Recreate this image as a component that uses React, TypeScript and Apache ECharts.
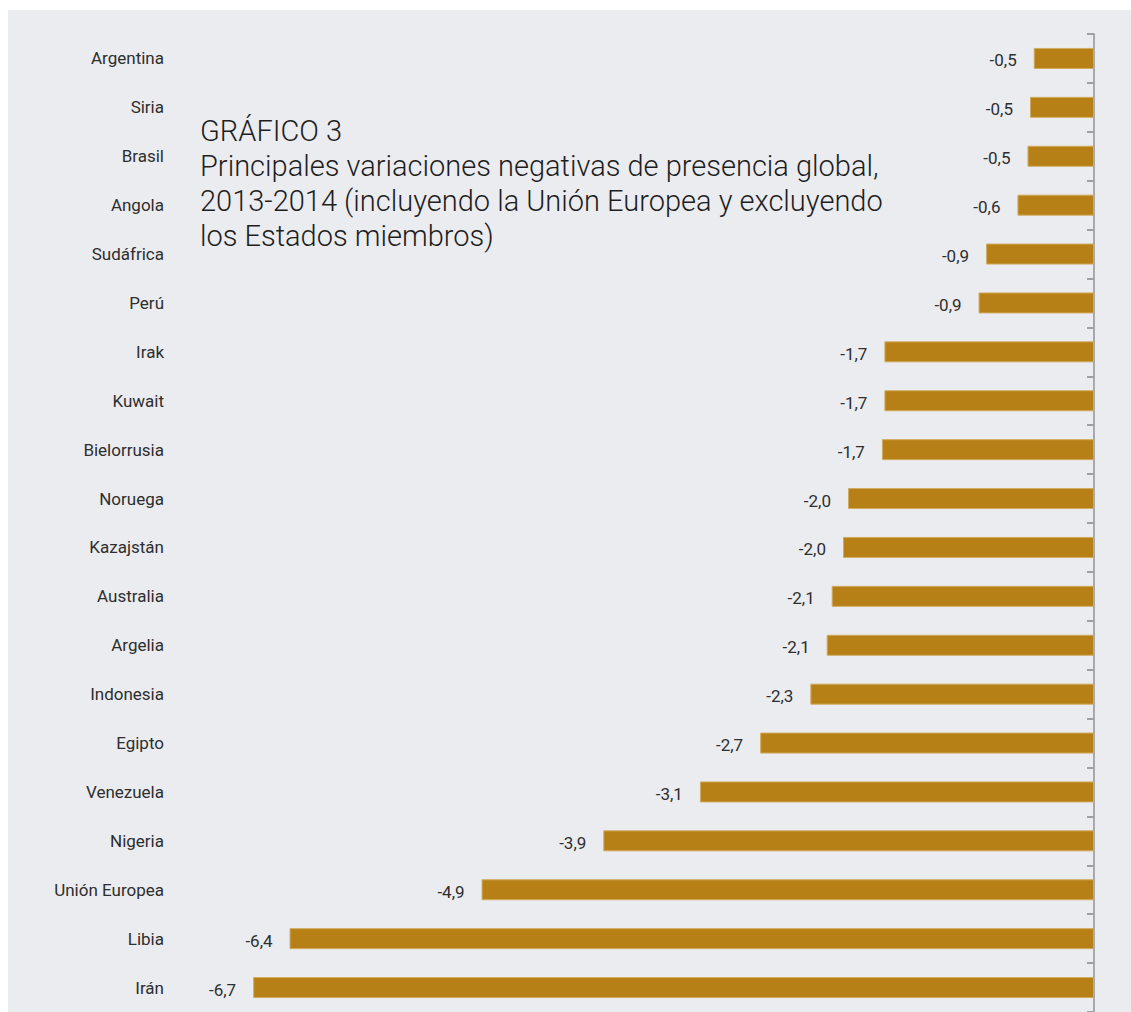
import React, { useEffect, useRef } from "react";
import * as echarts from "echarts";

const categories = [
  "Argentina", "Siria", "Brasil", "Angola", "Sudáfrica", "Perú", "Irak", "Kuwait",
  "Bielorrusia", "Noruega", "Kazajstán", "Australia", "Argelia", "Indonesia", "Egipto",
  "Venezuela", "Nigeria", "Unión Europea", "Libia", "Irán",
];
const values = [
  -0.48, -0.51, -0.53, -0.61, -0.86, -0.92, -1.67, -1.67, -1.69, -1.96, -2.0, -2.09,
  -2.13, -2.26, -2.66, -3.14, -3.91, -4.88, -6.41, -6.7,
];
const titleLines = [
  "GRÁFICO 3",
  "Principales variaciones negativas de presencia global,",
  "2013-2014 (incluyendo la Unión Europea y excluyendo",
  "los Estados miembros)",
];

export default function App() {
  const ref = useRef<HTMLDivElement>(null);
  useEffect(() => {
    if (!ref.current) return;
    const chart = echarts.init(ref.current, null, { renderer: "svg" });
    const font = "Roboto, 'Helvetica Neue', Arial, sans-serif";
    chart.setOption({
      animation: false,
      backgroundColor: "#ebecf0",
      textStyle: { fontFamily: font },
      grid: { left: 207.5, right: 37, top: 24, height: 980, containLabel: false },
      xAxis: {
        type: "value",
        min: -7,
        max: 0,
        show: false,
      },
      yAxis: [
        {
          type: "category",
          data: categories,
          inverse: true,
          position: "right",
          axisLine: { show: true, lineStyle: { color: "#a9a9ab", width: 2 } },
          axisTick: { show: true, inside: true, length: 7, lineStyle: { color: "#a0a0a2", width: 2 } },
          axisLabel: { show: false },
          splitLine: { show: false },
        },
        {
          type: "category",
          data: categories,
          inverse: true,
          position: "left",
          axisLine: { show: false },
          axisTick: { show: false },
          axisLabel: {
            show: true,
            margin: 51.5,
            color: "#2e2e2e",
            fontSize: 17,
            fontFamily: font,
            padding: [2, 0, 0, 0],
          },
          splitLine: { show: false },
        },
      ],
      series: [
        {
          type: "bar",
          data: values,
          yAxisIndex: 0,
          barWidth: 21,
          itemStyle: { color: "#b68017", borderColor: "#d1aa5e", borderWidth: 1 },
          label: {
            show: true,
            position: "left",
            distance: 17,
            offset: [0, 2],
            color: "#2e2e2e",
            fontSize: 17,
            fontFamily: font,
            formatter: (p: any) => Number(p.value).toFixed(1).replace(".", ","),
          },
        },
      ],
      graphic: [
        {
          type: "text",
          left: 192,
          top: 103,
          style: {
            text: titleLines.join("\n"),
            font: `300 29px ${font}`,
            fill: "#1e1e1e",
            lineHeight: 35,
          },
        },
      ],
    });
    return () => chart.dispose();
  }, []);
  return (
    <div style={{ position: "fixed", left: 0, top: 0, width: 1131, height: 1012, background: "#ffffff", overflow: "hidden" }}>
      <div ref={ref} style={{ position: "absolute", left: 8, top: 10, width: 1123, height: 1002 }} />
    </div>
  );
}
